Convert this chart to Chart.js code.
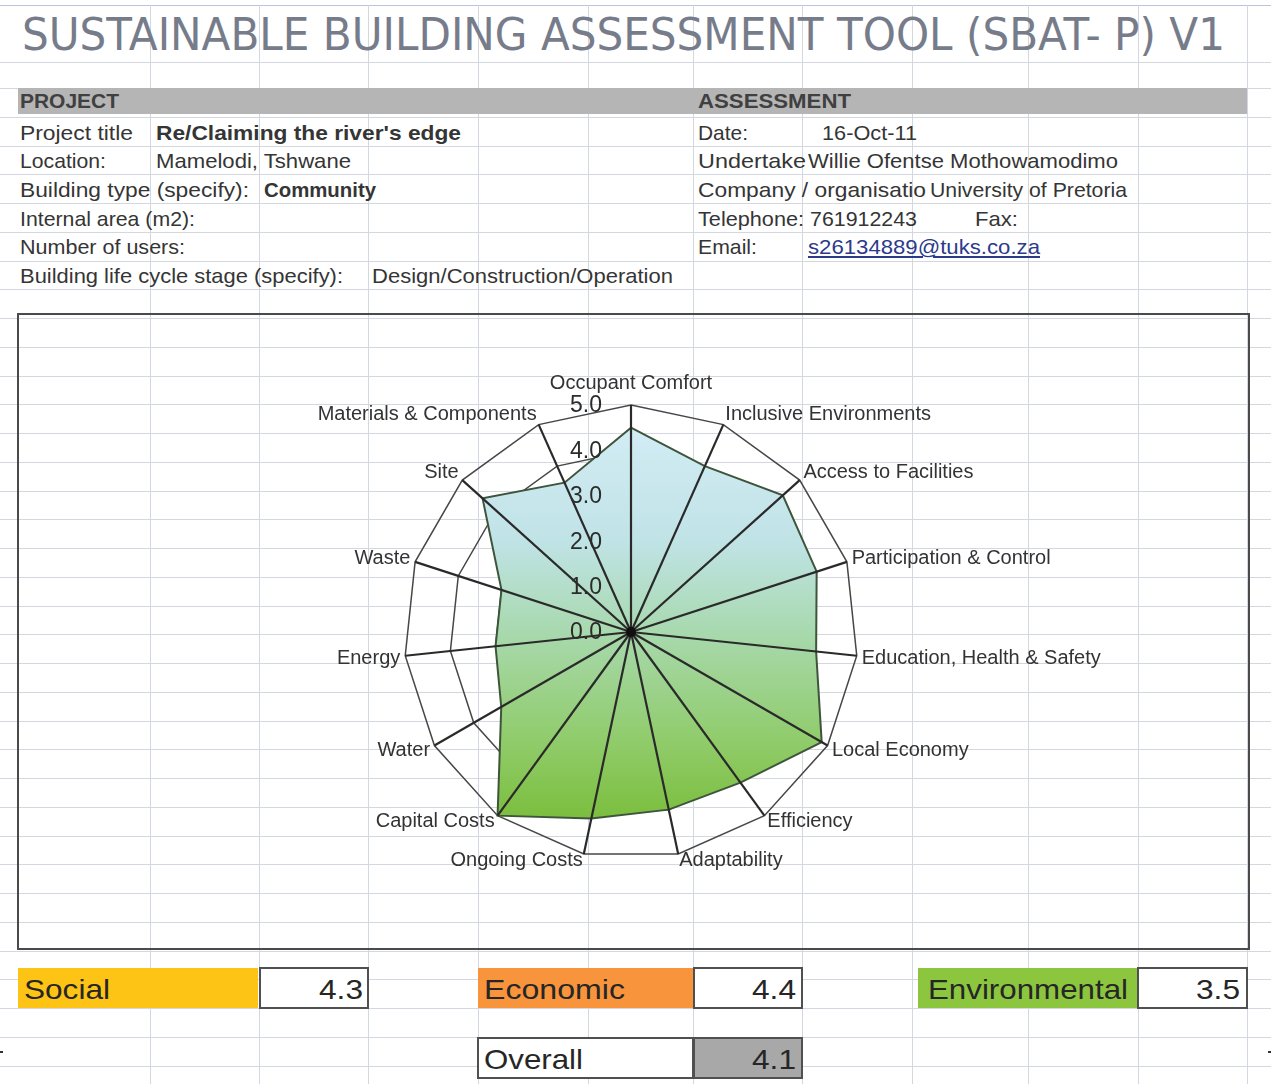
<!DOCTYPE html>
<html>
<head>
<meta charset="utf-8">
<title>SBAT-P V1</title>
<script src="https://cdn.jsdelivr.net/npm/chart.js@4.4.1/dist/chart.umd.min.js"></script>
<style>
  html, body { margin: 0; padding: 0; background: #fff; }
  #sheet { position: relative; width: 1271px; height: 1084px; overflow: hidden; background: #fff;
           font-family: "Liberation Sans", Arial, sans-serif; }
  .gl { position: absolute; background: #d3d8e0; }
  .box { position: absolute; box-sizing: border-box; }
  .t { position: absolute; white-space: nowrap; line-height: 1; transform-origin: 0 0; }
  #chartBox { position: absolute; left: 17px; top: 313px; width: 1233px; height: 637px;
              box-sizing: border-box; border: 2px solid #4a4a4a; }
  #radar { position: absolute; left: 18px; top: 314px; }
</style>
</head>
<body>
<div id="sheet">
  <div id="chartBox"></div>
  <canvas id="radar" width="1231" height="634"></canvas>
</div>
<script>
// assessment categories, clockwise from the top
const categories = [
  "Occupant Comfort", "Inclusive Environments", "Access to Facilities",
  "Participation & Control", "Education, Health & Safety", "Local Economy",
  "Efficiency", "Adaptability", "Ongoing Costs", "Capital Costs",
  "Water", "Energy", "Waste", "Site", "Materials & Components"
];
const scores = [4.5, 4.0, 4.5, 4.3, 4.1, 4.85, 4.1, 4.0, 4.2, 5.0, 3.3, 3.0, 3.0, 4.4, 3.6];
const tickValues = [0, 1, 2, 3, 4, 5];

// summary cells under the chart
const summaryNames = ["Social", "Economic", "Environmental", "Overall"];
const summaryScores = ["4.3", "4.4", "3.5", "4.1"];

const sheet = document.getElementById("sheet");

// spreadsheet gridlines
const colLines = [150, 259, 368, 478, 588, 693, 802, 912, 1028, 1138, 1247];
const rowLines = [5, 62];
for (let k = 0; k <= 34; k++) rowLines.push(Math.round(88 + 28.75 * k));
colLines.forEach(x => {
  const d = document.createElement("div");
  d.className = "gl";
  Object.assign(d.style, { left: x + "px", top: "5px", width: "1px", height: "1079px" });
  sheet.insertBefore(d, sheet.firstChild);
});
rowLines.forEach(y => {
  const d = document.createElement("div");
  d.className = "gl";
  Object.assign(d.style, { left: "0px", top: y + "px", width: "1271px", height: "1px" });
  if (y === 5) d.style.background = "#b9c6da";
  sheet.insertBefore(d, sheet.firstChild);
});

function addBox(x, y, w, h, bg, border) {
  const d = document.createElement("div");
  d.className = "box";
  Object.assign(d.style, { left: x + "px", top: y + "px", width: w + "px", height: h + "px", background: bg });
  if (border) d.style.border = "2px solid #505050";
  sheet.insertBefore(d, document.getElementById("chartBox"));
}

// header bar and summary boxes
addBox(18, 88, 1229, 26, "#b5b5b5");
addBox(18, 968, 240, 40, "#fdc315");
addBox(259, 967, 110, 42, "#fff", true);
addBox(478, 968, 215, 40, "#f7943c");
addBox(693, 967, 110, 42, "#fff", true);
addBox(918, 968, 220, 40, "#8cc63f");
addBox(1137, 967, 111, 42, "#fff", true);
addBox(477, 1037, 217, 42, "#fff", true);
addBox(693, 1037, 110, 42, "#a8a8a8", true);
addBox(0, 1051, 3, 2, "#333");
addBox(1268, 1051, 3, 2, "#333");

// text placed by baseline and stretched to its cell width
function addText(text, x, base, w, size, opt) {
  opt = opt || {};
  const s = document.createElement("span");
  s.className = "t";
  s.textContent = text;
  s.style.fontSize = size + "px";
  s.style.fontWeight = opt.bold ? "700" : "400";
  s.style.color = opt.color || "#353535";
  if (opt.family) s.style.fontFamily = opt.family;
  if (opt.underline) s.style.textDecoration = "underline";
  sheet.appendChild(s);
  const natural = s.getBoundingClientRect().width;
  s.style.left = x + "px";
  s.style.top = (base - 0.846 * size) + "px";
  s.style.transform = "scaleX(" + (w / natural).toFixed(4) + ")";
}

addText("SUSTAINABLE BUILDING ASSESSMENT TOOL (SBAT- P) V1", 22, 50, 1203, 44,
        { family: '"DejaVu Sans", Verdana, sans-serif', color: "#777c8b" });

addText("PROJECT", 20, 108, 99, 21, { bold: true, color: "#404040" });
addText("ASSESSMENT", 698, 108, 153, 21, { bold: true, color: "#404040" });

addText("Project title", 20, 140, 113, 21);
addText("Re/Claiming the river's edge", 156, 140, 305, 21, { bold: true });
addText("Location:", 20, 168, 86, 21);
addText("Mamelodi, Tshwane", 156, 168, 195, 21);
addText("Building type (specify):", 20, 197, 229, 21);
addText("Community", 264, 197, 112, 21, { bold: true });
addText("Internal area (m2):", 20, 226, 175, 21);
addText("Number of users:", 20, 254, 165, 21);
addText("Building life cycle stage (specify):", 20, 283, 323, 21);
addText("Design/Construction/Operation", 372, 283, 301, 21);

addText("Date:", 698, 140, 50, 21);
addText("16-Oct-11", 822, 140, 95, 21);
addText("Undertake", 698, 168, 108, 21);
addText("Willie Ofentse Mothowamodimo", 808, 168, 310, 21);
addText("Company / organisatio", 698, 197, 228, 21);
addText("University of Pretoria", 930, 197, 197, 21);
addText("Telephone:", 698, 226, 106, 21);
addText("761912243", 810, 226, 107, 21);
addText("Fax:", 975, 226, 43, 21);
addText("Email:", 698, 254, 59, 21);
addText("s26134889@tuks.co.za", 808, 254, 232, 21, { underline: true, color: "#2c3a8c" });

addText(summaryNames[0], 24, 1000, 86, 28, { color: "#262626" });
addText(summaryScores[0], 319, 1000, 44, 28, { color: "#262626" });
addText(summaryNames[1], 484, 1000, 141, 28, { color: "#262626" });
addText(summaryScores[1], 752, 1000, 44, 28, { color: "#262626" });
addText(summaryNames[2], 928, 1000, 200, 28, { color: "#262626" });
addText(summaryScores[2], 1196, 1000, 44, 28, { color: "#262626" });
addText(summaryNames[3], 484, 1070, 99, 28, { color: "#262626" });
addText(summaryScores[3], 752, 1070, 44, 28, { color: "#262626" });

// spokes, category names and scale numbers go on top of the filled area
const radarOverlay = {
  id: "radarOverlay",
  afterDatasetsDraw(chart) {
    const r = chart.scales.r;
    const ctx = chart.ctx;
    ctx.save();
    ctx.strokeStyle = "#2a2a2a";
    ctx.lineWidth = 2.2;
    categories.forEach((c, i) => {
      const p = r.getPointPosition(i, r.drawingArea);
      ctx.beginPath();
      ctx.moveTo(r.xCenter, r.yCenter);
      ctx.lineTo(p.x, p.y);
      ctx.stroke();
    });
    // where the spokes meet
    ctx.fillStyle = "#111";
    ctx.beginPath();
    ctx.arc(r.xCenter, r.yCenter, 5, 0, Math.PI * 2);
    ctx.fill();

    ctx.font = '20px "Liberation Sans", Arial, sans-serif';
    ctx.fillStyle = "#333";
    ctx.textBaseline = "middle";
    categories.forEach((name, i) => {
      const a = r.getIndexAngle(i);
      const sin = Math.sin(a), cos = Math.cos(a);
      const p = r.getPointPosition(i, r.drawingArea + 5);
      let y;
      if (Math.abs(sin) < 0.05) {
        ctx.textAlign = "center";
        y = p.y - 17;
      } else {
        ctx.textAlign = sin > 0 ? "left" : "right";
        y = cos > 0 ? p.y - 6 * cos : p.y + 2;
      }
      ctx.fillText(name, p.x, y);
    });

    ctx.font = '23px "Liberation Sans", Arial, sans-serif';
    ctx.fillStyle = "#2b2b2b";
    ctx.textAlign = "right";
    tickValues.forEach(v => {
      const y = r.yCenter - r.getDistanceFromCenterForValue(v);
      ctx.fillText(v.toFixed(1), r.xCenter - 29, y + 1);
    });
    ctx.restore();
  }
};

new Chart(document.getElementById("radar"), {
  type: "radar",
  data: {
    labels: categories,
    datasets: [{
      label: "Score",
      data: scores,
      borderColor: "#3e553c",
      borderWidth: 2,
      pointRadius: 0,
      fill: true,
      backgroundColor: (context) => {
        const chart = context.chart;
        const r = chart.scales.r;
        if (!chart.chartArea || !r) return "#a6d8a8";
        const g = chart.ctx.createLinearGradient(0, r.yCenter - r.drawingArea, 0, r.yCenter + r.drawingArea);
        g.addColorStop(0, "#d6eef8");
        g.addColorStop(0.3, "#c0e3e6");
        g.addColorStop(0.5, "#a8d9ae");
        g.addColorStop(0.75, "#8fcb68");
        g.addColorStop(1, "#70b726");
        return g;
      }
    }]
  },
  options: {
    responsive: false,
    animation: false,
    devicePixelRatio: 1,
    layout: { padding: { top: 91, bottom: 89, left: 0, right: 5 } },
    plugins: { legend: { display: false }, tooltip: { enabled: false } },
    scales: {
      r: {
        min: 0,
        max: 5,
        ticks: { display: false, stepSize: 1 },
        grid: { color: "#474747", lineWidth: 1.5 },
        angleLines: { display: false },
        pointLabels: { display: false }
      }
    }
  },
  plugins: [radarOverlay]
});
</script>
</body>
</html>
